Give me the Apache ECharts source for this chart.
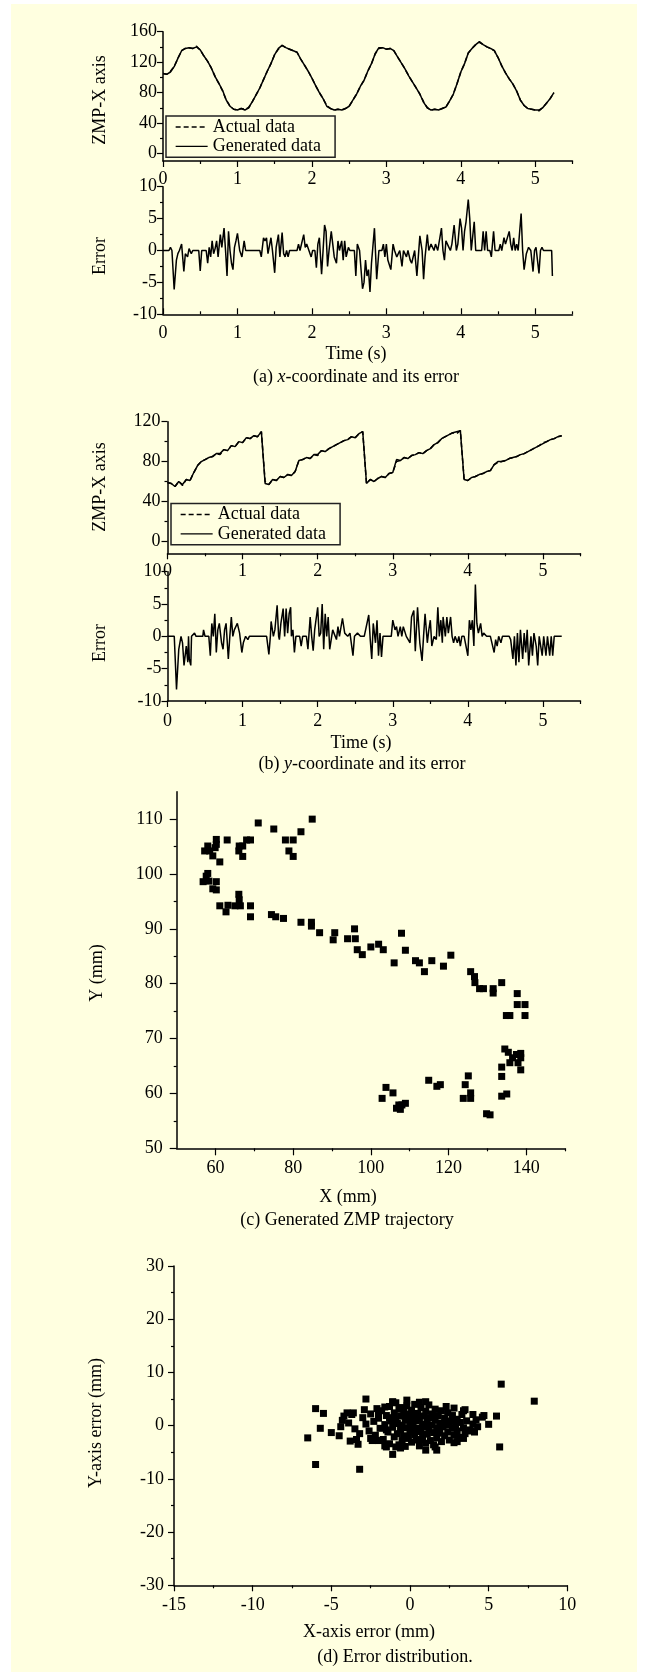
<!DOCTYPE html>
<html><head><meta charset="utf-8">
<script src="https://cdn.jsdelivr.net/npm/echarts@6/dist/echarts.min.js"></script>
<style>html,body{margin:0;padding:0;background:#fff;}#c{width:646px;height:1675px;}</style>
</head><body><div id="c"></div>
<script>
// ---------------- DATA ----------------
const waveStep = 0.05; // seconds between samples of the ZMP curves
const actualX = [105,104,108,114,125,135,138,139,138,141,136,128,121,112,101,92,82,70,62,58,57,59,58,60,68,77,86,97,108,118,130,137,142,139,137,135,133,124,116,108,99,89,80,72,63,59,57,58,57,59,62,70,78,88,96,108,118,131,138,139,137,138,135,127,119,111,102,94,86,78,68,60,57,58,57,59,61,69,78,92,107,118,132,138,143,146,143,140,138,135,126,115,106,98,91,82,70,63,59,58,57,56,60,66,72,80];
const generatedX = [105,104,107,114,125,135,138,139,138,140,136,128,121,112,101,92,83,70,62,58,57,59,57,60,68,77,86,97,108,118,130,138,142,139,137,135,133,124,116,108,99,89,80,72,62,59,57,58,57,59,62,70,78,88,96,108,118,131,139,139,137,138,135,127,119,111,102,94,86,78,67,60,57,58,57,59,61,69,78,92,107,118,132,138,143,147,143,140,138,135,126,115,106,98,91,82,70,63,59,58,57,57,60,66,72,80];
const actualY = [59,58,55,60,56,62,61,69,76,80,82,84,85,88,87,92,91,96,95,100,99,104,103,106,105,110,60,57,62,61,65,64,67,66,70,81,82,84,83,87,86,91,90,93,95,97,99,101,102,105,104,108,110,58,62,60,63,65,64,68,69,80,81,84,83,86,87,89,88,91,93,97,99,103,105,107,109,108,111,62,61,64,65,67,68,70,71,77,79,80,81,83,84,85,87,88,90,92,94,96,99,100,102,103,105,106];
const generatedY = [59,58,55,60,57,62,61,69,76,80,82,84,85,88,88,92,91,96,95,100,99,104,103,106,105,110,58,57,62,61,65,64,67,66,70,81,82,84,83,87,87,91,90,93,95,97,99,101,102,105,104,108,110,58,62,60,63,65,64,68,69,82,81,84,83,86,87,89,88,91,93,97,99,103,105,107,109,110,111,62,61,64,65,67,68,70,71,77,80,80,81,83,84,85,87,88,90,92,94,96,98,100,102,103,105,106];

// [time (s), error]
const errorX = [[0,0],[0.08,0],[0.1,0.5],[0.12,0],[0.15,-6.1],[0.18,-1.5],[0.2,-0.5],[0.22,0],[0.25,1],[0.28,-3.3],[0.3,-0.5],[0.33,-1],[0.35,0.3],[0.38,-0.5],[0.4,0],[0.48,0],[0.5,-3.2],[0.52,0],[0.58,0],[0.6,-2],[0.62,0.5],[0.64,-1],[0.66,1.5],[0.68,-0.5],[0.7,0.3],[0.72,1.5],[0.74,-1],[0.77,2.5],[0.79,0.5],[0.82,3.5],[0.84,0],[0.86,-4],[0.88,3],[0.9,0],[0.92,-2],[0.94,-3],[0.96,0.5],[0.98,1.5],[1.0,2.7],[1.03,0],[1.06,-1],[1.09,1.5],[1.11,0],[1.3,0],[1.32,-1],[1.35,2],[1.37,1.5],[1.39,2],[1.41,-0.5],[1.43,-0.8],[1.45,2],[1.47,0],[1.5,-3.5],[1.52,0.5],[1.55,2.5],[1.57,-1],[1.6,2.8],[1.62,-0.5],[1.64,-1],[1.66,0],[1.68,-1],[1.7,0],[1.8,0],[1.82,1],[1.84,0],[1.89,2.5],[1.91,0.5],[1.93,1],[1.96,0],[1.99,-1],[2.01,0],[2.04,0],[2.06,-2.7],[2.08,1],[2.1,2],[2.13,-3.7],[2.15,0],[2.17,4],[2.19,3],[2.21,-2.5],[2.23,0],[2.26,3],[2.28,1],[2.3,-1],[2.33,-2],[2.35,1.5],[2.37,0],[2.4,1.5],[2.42,-1.5],[2.44,1.5],[2.46,-1],[2.49,0.5],[2.51,0],[2.57,0],[2.59,-4],[2.61,1],[2.64,0],[2.66,0],[2.68,-6],[2.7,-5],[2.72,-1.5],[2.74,-4],[2.76,-3],[2.78,-6.5],[2.8,-2],[2.84,3.5],[2.87,-4.5],[2.9,0],[2.94,0],[2.96,1],[2.98,-1],[3.0,1],[3.02,-1.5],[3.06,-3],[3.09,1],[3.11,0],[3.14,-1],[3.18,0],[3.21,-2.5],[3.23,0],[3.27,-1],[3.29,0],[3.32,-1.5],[3.34,-2],[3.38,0],[3.41,-4],[3.45,2.3],[3.48,0],[3.5,-4.5],[3.52,-1],[3.55,2.5],[3.57,0],[3.6,1],[3.64,0],[3.66,1],[3.69,0],[3.74,3.5],[3.76,0],[3.78,-1.5],[3.8,1.5],[3.84,0.5],[3.86,0],[3.88,1],[3.91,4],[3.94,0],[3.96,1],[3.99,5],[4.01,3.5],[4.03,0],[4.05,3],[4.07,4.5],[4.1,8],[4.12,5],[4.14,0],[4.18,4.5],[4.2,0],[4.28,0],[4.3,3],[4.32,0],[4.34,3],[4.36,0],[4.39,0],[4.41,-1],[4.44,3],[4.46,0],[4.51,0],[4.53,1],[4.55,0],[4.58,2],[4.6,1],[4.65,3],[4.67,1],[4.69,0],[4.71,2],[4.73,0],[4.75,1],[4.77,0],[4.81,5.8],[4.83,0],[4.85,-3],[4.88,-0.5],[4.91,0.5],[4.94,0],[4.97,-3.3],[4.99,0],[5.01,0.5],[5.05,-3.6],[5.07,0],[5.09,0.5],[5.11,0],[5.22,0],[5.23,-4]];
const errorY = [[0,0],[0.09,0],[0.12,-8.2],[0.15,-2],[0.18,0],[0.2,-1],[0.22,-4.5],[0.25,-1.5],[0.27,-4],[0.28,0],[0.29,-3.5],[0.31,-4.5],[0.32,0],[0.36,0.5],[0.38,0],[0.47,0],[0.48,1],[0.5,0],[0.55,0],[0.57,-3],[0.59,2],[0.61,0],[0.63,3.5],[0.65,-2.5],[0.67,1],[0.69,2],[0.72,-1],[0.74,-2],[0.76,1],[0.78,2],[0.81,-3.5],[0.83,0],[0.85,3],[0.87,0],[0.89,1],[0.91,1],[0.93,2],[0.96,0.5],[0.99,-2.5],[1.01,-1],[1.04,0],[1.07,-0.5],[1.09,0],[1.32,0],[1.35,-2.8],[1.37,0],[1.38,2.3],[1.41,0],[1.43,1],[1.46,4.8],[1.48,0],[1.49,-0.5],[1.51,2],[1.54,4.3],[1.56,0],[1.58,4.3],[1.6,0.5],[1.62,3.5],[1.64,4.5],[1.65,0],[1.67,1],[1.69,-2.5],[1.71,0],[1.76,0],[1.78,-1.5],[1.8,0],[1.85,0],[1.87,-2],[1.9,3],[1.92,0],[1.94,-2.2],[1.96,1],[2.0,4.5],[2.02,0],[2.04,0.5],[2.06,5],[2.08,-2],[2.1,3.5],[2.12,0],[2.14,3],[2.16,-2],[2.2,1],[2.25,-0.5],[2.27,1.5],[2.29,0],[2.33,2.8],[2.36,0.5],[2.4,0],[2.43,0.5],[2.47,-3],[2.49,0],[2.53,0.5],[2.57,0],[2.62,0],[2.68,3.3],[2.7,-0.5],[2.72,-3.5],[2.74,2],[2.77,-1],[2.79,2.5],[2.81,-3],[2.83,0.5],[2.85,-3.2],[2.87,0],[2.98,0],[3.0,2.5],[3.03,1],[3.05,1.5],[3.07,0],[3.1,1.5],[3.12,0],[3.14,1.5],[3.18,0],[3.23,-1],[3.25,3],[3.28,4],[3.3,-2.3],[3.33,4.5],[3.36,-1],[3.39,-3.8],[3.41,0],[3.43,3.5],[3.46,-1],[3.48,1],[3.5,2.5],[3.52,-1.5],[3.55,0],[3.58,-0.5],[3.6,4.5],[3.62,0],[3.64,2.5],[3.66,-1],[3.67,3],[3.7,0],[3.72,3],[3.74,0.5],[3.77,3],[3.79,0],[3.81,-1],[3.83,0],[3.86,-1],[3.88,0],[3.9,-1.5],[3.92,0],[3.95,0],[4.0,-3],[4.02,2.5],[4.04,1],[4.06,2.5],[4.08,-1.5],[4.1,8],[4.12,2],[4.14,0.5],[4.17,2],[4.19,0],[4.21,0.5],[4.25,0],[4.3,0],[4.33,-1.5],[4.35,-2.5],[4.37,-0.5],[4.39,-1.5],[4.41,0],[4.44,-1],[4.46,0],[4.55,0],[4.57,-0.5],[4.6,-3.5],[4.62,0],[4.64,-4.5],[4.66,0.5],[4.68,-4],[4.7,1],[4.73,-3.5],[4.75,0.5],[4.77,-2.5],[4.79,1],[4.81,-4.5],[4.84,0],[4.86,-3],[4.88,0.5],[4.91,-1.5],[4.93,-4.5],[4.95,0],[4.97,-1.5],[4.99,-3],[5.01,0],[5.04,-3],[5.06,0],[5.09,-3],[5.11,0],[5.13,-3],[5.15,0],[5.25,0]];

// [X (mm), Y (mm)]
const trajectory = [[57.2,104.2],[58,105.1],[58.5,104.2],[59.3,103.3],[59.9,104.8],[60.2,106.3],[60.2,105.4],[61.1,102.2],[63,106.2],[66,104.2],[66.1,105.1],[67,103.2],[67,105.1],[68,106.2],[69,106.2],[71,109.3],[75,108.2],[78,106.2],[78.9,104.2],[80,106.2],[80,103.2],[82,107.7],[84.9,110],
[56.8,98.6],[57.6,99.6],[58,100.1],[58.3,98.7],[59.3,97.3],[60.2,97.1],[60.2,98.6],[61.1,94.2],[62.7,93.1],[63.2,94.3],[65,94.2],[66,96.3],[66.1,95.3],[66.4,94.2],[69,94.2],[69,92.2],[74.4,92.6],[75.5,92.2],[77.5,91.9],[82,91.2],[84.7,91.2],[84.7,90.5],[86.8,89.3],[90.3,88],[90.7,89.3],[94,88.2],[95.8,90],[96,88.2],[96.5,86.2],[97.8,85.3],[100,86.7],[102,87.2],[103.2,86.2],[106,83.8],[107.9,89.2],[108.9,86.1],[111.5,84.2],[112.5,83.8],[113.8,82.2],[115.7,84.2],[118.7,83.2],[120.6,85.2],[125.7,82.2],[126.7,81.3],[126.8,80.2],[128,79.1],[129,79.1],[131.5,79.1],[131.5,78.3],[133.7,80.2],[134.9,74.2],[135.8,74.2],[137.7,78.2],[137.7,76.2],[139.7,76.2],[139.7,74.2],
[134.5,68.1],[135.4,67.5],[136.5,66.5],[137.5,67.1],[138.6,67.3],[138.6,66.5],[137.9,65.6],[135.8,65.6],[138.6,64.3],[133.7,64.8],[133.7,63.1],[133.7,59.5],[135,59.9],
[102.9,59.1],[103.9,61.1],[105.7,60.1],[106.6,57.3],[107.2,57.9],[107.6,57.1],[108,57.9],[108.9,58.2],[114.9,62.4],[117,61.3],[117.9,61.6],[123.8,59.1],[124.3,61.6],[125.1,63.2],[125.7,60.1],[125.7,59.1],[129.8,56.3],[130.7,56.1]];

// [X-axis error, Y-axis error] (mm)
const errorDist = [[5.8,7.8],[7.9,4.6],[5.7,-4],[5.5,1.8],[5,0.25],[-6,3.2],[-5.5,2.3],[-6.5,-2.3],[-5.7,-0.5],[-5,-1.3],[-4.5,-1.9],[-6,-7.3],[-3.2,-8.2],[-2.8,5],[-0.2,4.8],[1,4.5],[-1.1,4.5],[3.5,3],[2.8,3.3],[4.7,1.9],[4,2.1],[3.9,-1],[3.4,-2.4],[3,-3],[1.7,-4.6],[1,-4.6],[-1.1,-5.4],[-1.5,-4],[-3.6,2.4],[-4,2.4],[-4.3,1],[-3.8,-2.9],[-3.3,-3.5],[-2.5,-2.4],[-2,-2.8],[-2,2.6],[-1.6,3.5],
[-3,1.5],[-2.8,0.3],[-2.6,-1],[-2.5,2.2],[-2.3,0.8],[-2.2,-1.8],[-2,1.4],[-1.9,-0.5],[-1.8,2.8],[-1.7,-2.6],[-1.6,0.2],[-1.5,1.9],[-1.4,-1.2],[-1.3,3.6],[-1.3,-3.4],[-1.2,0.9],[-1.1,-0.3],[-1,2.4],[-1,-2.1],[-0.9,4.3],[-0.9,1.2],[-0.8,-1.5],[-0.8,0.4],[-0.7,3.1],[-0.7,-3.6],[-0.6,-0.8],[-0.6,1.8],[-0.5,-2.8],[-0.5,0.1],[-0.4,2.6],[-0.4,-1.9],[-0.3,1],[-0.3,-3.9],[-0.2,3.7],[-0.2,-0.4],[-0.1,1.6],[-0.1,-2.4],[0,0.6],[0,-1.2],[0.1,2.9],[0.1,-3.1],[0.2,0],[0.2,1.9],[0.3,-1.7],[0.3,4],[0.4,0.9],[0.4,-2.7],[0.5,-0.5],[0.5,2.3],[0.6,-3.8],[0.6,1.3],[0.7,-1.1],[0.7,3.4],[0.8,0.3],[0.8,-2.2],[0.9,1.8],[0.9,-0.2],[1,-3.3],[1,2.7],[1.1,0.7],[1.1,-1.6],[1.2,3.9],[1.2,-0.7],[1.3,1.5],[1.3,-2.8],[1.4,0.1],[1.4,2.2],[1.5,-1.3],[1.5,-3.6],[1.6,1],[1.6,3.1],[1.7,-0.4],[1.7,-2.3],[1.8,1.9],[1.9,-1],[1.9,0.5],[2,2.8],[2,-3],[2.1,-0.2],[2.2,1.4],[2.2,-1.9],[2.3,0.3],[2.4,2.4],[2.4,-1.2],[2.5,-2.7],[2.6,0.9],[2.7,-0.5],[2.7,1.9],[2.8,-1.8],[2.9,0.2],[3,1.2],[3,-1],[3.1,-2.2],[3.2,0.6],[3.3,2.1],[3.4,-0.4],[3.5,-1.5],[3.6,0.9],[3.8,-0.8],[4,0.3],[4.1,-1.2],[4.2,1.1],[4.3,-0.2],[4.6,1.6],[-3.5,-0.6],[-3.7,2.1],[-3.4,-2.6],[-3.9,0.5],[-4.2,1.8],[-4.4,-0.2],[-3.2,-1.5],[-2.9,3],[-2.4,-2.8],[-2.1,3.2],[-1.6,-3.8],[-1.1,4.4],[-0.6,-4.2],[0.6,4.4],[1.6,-4],[2.3,3.6],[2.8,-3.2],[3.4,2.8],[-0.9,-4],[-1.3,1.5],[0.3,-0.9],[-0.2,2.2],[1.0,0.2],[-1.5,-0.8],[0.7,-2.6],[1.8,-1.4],[-0.5,3.4],[2.5,0.1]];

// tick / label values
const timeLabels = [0,1,2,3,4,5];
const timeMinor = [0.5,1.5,2.5,3.5,4.5,5.5];
const zmpXLabels = [0,40,80,120,160], zmpXMinor = [20,60,100,140];
const zmpYLabels = [0,40,80,120], zmpYMinor = [20,60,100];
const errLabels = [-10,-5,0,5,10], errMinor = [-7.5,-2.5,2.5,7.5];
const trajXLabels = [60,80,100,120,140], trajXMinor = [70,90,110,130,150];
const trajYLabels = [50,60,70,80,90,100,110], trajYMinor = [55,65,75,85,95,105];
const distXLabels = [-15,-10,-5,0,5,10], distXMinor = [-12.5,-7.5,-2.5,2.5,7.5];
const distYLabels = [-30,-20,-10,0,10,20,30], distYMinor = [-25,-15,-5,5,15,25];

// ---------------- CHART ----------------
const FONT = 'Liberation Serif';
const toSeries = (arr) => arr.map((v, i) => [+(i * waveStep).toFixed(2), v]);

const grids = [], xAxes = [], yAxes = [];
function mainAxis(gi, pos, c) {
  return {type:'value', gridIndex:gi, position:pos, min:c.min, max:c.max,
    axisLine:{show:true, onZero:false, lineStyle:{color:'#000', width:1.5}},
    axisTick:{show:true, inside:!!c.inside, length:c.len || 6, customValues:c.labels, lineStyle:{color:'#000', width:1.2}},
    minorTick:{show:false},
    axisLabel:{show:true, customValues:c.labels, margin:c.margin, fontFamily:FONT, fontSize:18, color:'#000'},
    splitLine:{show:false}};
}
function minorAxis(gi, pos, c) {
  return {type:'value', gridIndex:gi, position:pos, min:c.min, max:c.max,
    axisLine:{show:false, onZero:false},
    axisTick:{show:true, inside:!!c.inside, length:3, customValues:c.minor, lineStyle:{color:'#000', width:1.2}},
    axisLabel:{show:false}, splitLine:{show:false}};
}
function addPanel(p) {
  const gi = grids.length;
  const g = {left:p.left, top:p.top, width:p.width, height:p.height, containLabel:false, outerBoundsMode:'none'};
  grids.push(g, Object.assign({}, g));
  const xi = xAxes.length, yi = yAxes.length;
  xAxes.push(mainAxis(gi, 'bottom', p.x), minorAxis(gi + 1, 'bottom', p.x));
  yAxes.push(mainAxis(gi, 'left', p.y), minorAxis(gi + 1, 'left', p.y));
  return {xi, yi};
}

const tA = {min:0, max:5.5, labels:timeLabels, minor:timeMinor};
const pA1 = addPanel({left:163, top:31.7, width:409.5, height:129.3,
  x:Object.assign({}, tA, {margin:9}), y:{min:-10, max:160, labels:zmpXLabels, minor:zmpXMinor, margin:6}});
const pA2 = addPanel({left:163, top:186.7, width:409.5, height:127.6,
  x:Object.assign({}, tA, {margin:10, inside:true}), y:{min:-10, max:10, labels:errLabels, minor:errMinor, margin:6}});
const pB1 = addPanel({left:167.5, top:421.7, width:413, height:131.6,
  x:Object.assign({}, tA, {margin:9}), y:{min:-12, max:120, labels:zmpYLabels, minor:zmpYMinor, margin:7}});
const pB2 = addPanel({left:167.5, top:571.7, width:413, height:129.3,
  x:Object.assign({}, tA, {margin:11}), y:{min:-10, max:10, labels:errLabels, minor:errMinor, margin:6}});
const pC = addPanel({left:176.7, top:791.7, width:388.3, height:356.6,
  x:{min:50, max:150, labels:trajXLabels, minor:trajXMinor, margin:11, len:7}, y:{min:50, max:115, labels:trajYLabels, minor:trajYMinor, margin:14, len:7}});
const pD = addPanel({left:174, top:1266, width:393.3, height:319.3,
  x:{min:-15, max:10, labels:distXLabels, minor:distXMinor, margin:11}, y:{min:-30, max:30, labels:distYLabels, minor:distYMinor, margin:10}});

function lineSeries(name, p, data, dashed) {
  return {type:'line', name, xAxisIndex:p.xi, yAxisIndex:p.yi, data, symbol:'none', showSymbol:false,
    lineStyle:{color:'#000', width:1.5, type: dashed ? [5,3] : 'solid'}, itemStyle:{color:'#000'}, z: dashed ? 2 : 3};
}
function scatterSeries(name, p, data) {
  return {type:'scatter', name, xAxisIndex:p.xi, yAxisIndex:p.yi, data, symbol:'rect', symbolSize:7,
    itemStyle:{color:'#000', opacity:1}};
}

const series = [
  lineSeries('Actual data', pA1, toSeries(actualX), true),
  lineSeries('Generated data', pA1, toSeries(generatedX), false),
  lineSeries('Error X', pA2, errorX, false),
  lineSeries('Actual data', pB1, toSeries(actualY), true),
  lineSeries('Generated data', pB1, toSeries(generatedY), false),
  lineSeries('Error Y', pB2, errorY, false),
  scatterSeries('Trajectory', pC, trajectory),
  scatterSeries('Error distribution', pD, errorDist)
];

function legendAt(left, top) {
  return {data:['Actual data', 'Generated data'], orient:'vertical', left, top,
    itemWidth:32, itemHeight:10, itemGap:1.3, padding:[2, 14, 2, 9],
    borderColor:'#222', borderWidth:1.5, borderRadius:0, backgroundColor:'transparent',
    itemStyle:{opacity:0},
    lineStyle:{width:1.3},
    selectedMode:false, textStyle:{fontFamily:FONT, fontSize:18, color:'#000', lineHeight:18}};
}

function txt(x, y, text, rot) {
  return {type:'text', x, y, rotation:rot || 0, silent:true,
    style:{text, fontFamily:FONT, fontSize:18, fill:'#000',
      textAlign:'center', textVerticalAlign:'middle', align:'center', verticalAlign:'middle',
      rich:{i:{fontStyle:'italic', fontFamily:FONT, fontSize:18, fill:'#000'}}}};
}
const R = Math.PI / 2;
const graphics = [
  {type:'rect', shape:{x:11, y:4, width:626, height:1668}, style:{fill:'#FFFFE0'}, z:-100, silent:true},
  txt(100, 100, 'ZMP-X axis', R),
  txt(100, 256, 'Error', R),
  txt(356, 354, 'Time (s)'),
  txt(356, 377, '(a) {i|x}-coordinate and its error'),
  txt(100, 487, 'ZMP-X axis', R),
  txt(100, 643, 'Error', R),
  txt(361, 743, 'Time (s)'),
  txt(362, 764, '(b) {i|y}-coordinate and its error'),
  txt(97, 973, 'Y (mm)', R),
  txt(348, 1197, 'X (mm)'),
  txt(347, 1220, '(c) Generated ZMP trajectory'),
  txt(96, 1423, 'Y-axis error (mm)', R),
  txt(369, 1632, 'X-axis error (mm)'),
  txt(395, 1657, '(d) Error distribution.')
];

const chart = echarts.init(document.getElementById('c'), null, {renderer:'canvas'});
chart.setOption({
  animation:false,
  backgroundColor:'#ffffff',
  textStyle:{fontFamily:FONT},
  grid:grids, xAxis:xAxes, yAxis:yAxes,
  legend:[legendAt(166, 116), legendAt(171, 503.5)],
  graphic:{elements:graphics},
  series
});
</script></body></html>
